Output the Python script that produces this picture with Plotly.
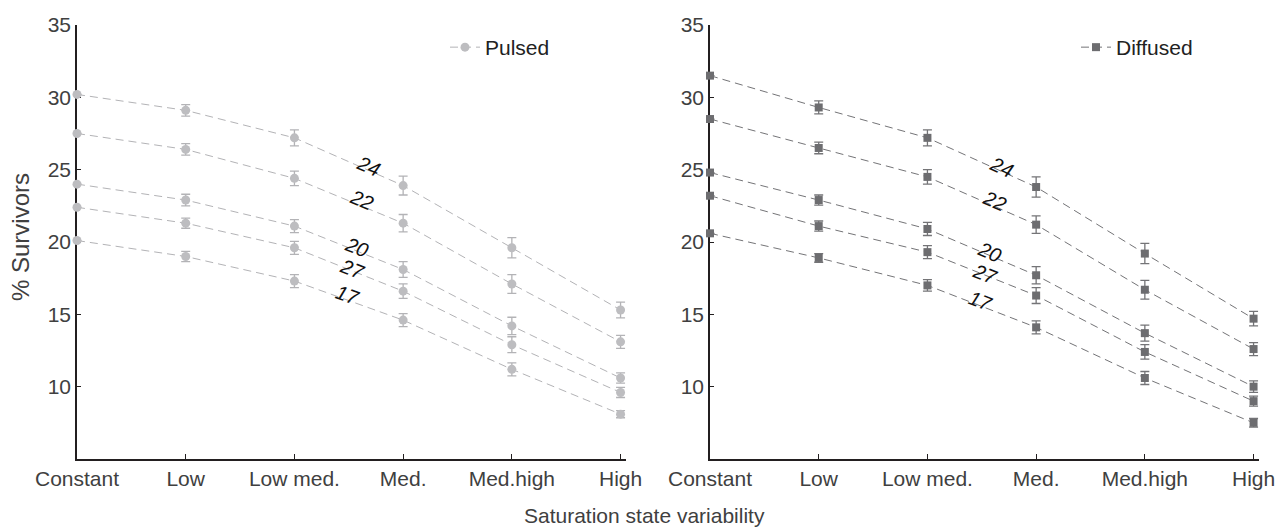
import math
import plotly.graph_objects as go

categories = ["Constant", "Low", "Low med.", "Med.", "Med.high", "High"]
temperatures = ["24", "22", "20", "27", "17"]

# Pulsed panel (% survivors), one list per temperature
pulsed_24 = [30.2, 29.1, 27.2, 23.9, 19.6, 15.3]
pulsed_22 = [27.5, 26.4, 24.4, 21.3, 17.1, 13.1]
pulsed_20 = [24.0, 22.9, 21.1, 18.1, 14.2, 10.6]
pulsed_27 = [22.4, 21.3, 19.6, 16.6, 12.9, 9.6]
pulsed_17 = [20.1, 19.0, 17.3, 14.6, 11.2, 8.1]
pulsed_err_24 = [0, 0.4, 0.55, 0.65, 0.7, 0.55]
pulsed_err_22 = [0, 0.4, 0.5, 0.6, 0.65, 0.45]
pulsed_err_20 = [0, 0.4, 0.45, 0.55, 0.6, 0.35]
pulsed_err_27 = [0, 0.35, 0.45, 0.5, 0.55, 0.35]
pulsed_err_17 = [0, 0.35, 0.45, 0.45, 0.45, 0.25]

# Diffused panel
diffused_24 = [31.5, 29.3, 27.2, 23.8, 19.2, 14.7]
diffused_22 = [28.5, 26.5, 24.5, 21.2, 16.7, 12.6]
diffused_20 = [24.8, 22.9, 20.9, 17.7, 13.7, 10.0]
diffused_27 = [23.2, 21.1, 19.3, 16.3, 12.4, 9.0]
diffused_17 = [20.6, 18.9, 17.0, 14.1, 10.6, 7.5]
diffused_err_24 = [0, 0.45, 0.55, 0.7, 0.7, 0.5]
diffused_err_22 = [0, 0.4, 0.5, 0.6, 0.65, 0.45]
diffused_err_20 = [0, 0.35, 0.45, 0.6, 0.55, 0.4]
diffused_err_27 = [0, 0.35, 0.45, 0.55, 0.5, 0.35]
diffused_err_17 = [0, 0.3, 0.4, 0.45, 0.45, 0.3]

pulsed_series = [pulsed_24, pulsed_22, pulsed_20, pulsed_27, pulsed_17]
pulsed_errors = [pulsed_err_24, pulsed_err_22, pulsed_err_20, pulsed_err_27, pulsed_err_17]
diffused_series = [diffused_24, diffused_22, diffused_20, diffused_27, diffused_17]
diffused_errors = [diffused_err_24, diffused_err_22, diffused_err_20, diffused_err_27, diffused_err_17]

# ---- layout / style ----
W, H = 1288, 529
ML, MR, MT, MB = 77, 29, 25, 70
plot_w = W - ML - MR
plot_h = H - MT - MB
dom1 = [0, 549 / plot_w]
dom2 = [633 / plot_w, 1]
xr = [0, 5.05]
yr = [5, 35]
px_per_x = (dom1[1] - dom1[0]) * plot_w / (xr[1] - xr[0])
px_per_y = plot_h / (yr[1] - yr[0])

label_frac = [0.68, 0.62, 0.57, 0.53, 0.49]   # label placement along Low med. -> Med. segment
label_lift = [0.3, 0.4, 0.25, 0.1, 0.35]

AXC = "#231f20"
TXT = "#404040"
FONT = "Liberation Sans, Arial, Helvetica, sans-serif"

fig = go.Figure()

panels = [
    ("Pulsed", pulsed_series, pulsed_errors, "x", "y", "legend", "circle", "#bdbdc0", "#b3b3b6", 9),
    ("Diffused", diffused_series, diffused_errors, "x2", "y2", "legend2", "square", "#6d6d70", "#747477", 8),
]

annotations = []
for name, series, errs, xa, ya, leg, sym, mcol, lcol, msz in panels:
    for i, (vals, ev) in enumerate(zip(series, errs)):
        fig.add_trace(go.Scatter(
            x=categories, y=vals, xaxis=xa, yaxis=ya,
            mode="lines+markers", name=name, legend=leg,
            legendgroup=name, showlegend=(i == 0),
            line=dict(color=lcol, width=1, dash="8px,5px"),
            marker=dict(symbol=sym, size=msz, color=mcol),
            error_y=dict(type="data", array=ev, visible=True, color=lcol,
                         thickness=1.3, width=4.5),
            cliponaxis=False,
        ))
        # rotated temperature label along the Low med. -> Med. segment
        f = label_frac[i]
        y1, y2 = vals[2], vals[3]
        ly = y1 + f * (y2 - y1) + label_lift[i]
        ang = math.degrees(math.atan2((y1 - y2) * px_per_y, px_per_x))
        annotations.append(dict(
            x=2 + f, y=ly, xref=xa, yref=ya, text="<i>" + temperatures[i] + "</i>",
            showarrow=False, textangle=ang,
            font=dict(size=20, color="#111111", family=FONT),
        ))

annotations.append(dict(
    x=(644 - ML) / plot_w, y=-0.1, xref="paper", yref="paper",
    xanchor="center", yanchor="top",
    text="Saturation state variability", showarrow=False,
    font=dict(size=21, color=TXT, family=FONT),
))
annotations.append(dict(
    x=(20 - ML) / plot_w, y=(H - MB - 237) / plot_h, xref="paper", yref="paper",
    xanchor="center", yanchor="middle",
    text="% Survivors", showarrow=False, textangle=-90,
    font=dict(size=24, color=TXT, family=FONT),
))

xaxis_common = dict(
    type="category", range=xr, showgrid=False, zeroline=False,
    showline=True, linecolor=AXC, linewidth=1.6,
    ticks="inside", ticklen=5, tickwidth=1, tickcolor=AXC,
    tickfont=dict(size=21, color=TXT, family=FONT),
    layer="below traces",
)
yaxis_common = dict(
    range=yr, showgrid=False, zeroline=False,
    showline=True, linecolor=AXC, linewidth=1.6,
    ticks="inside", ticklen=4, tickwidth=1, tickcolor=AXC,
    tickvals=[10, 15, 20, 25, 30, 35],
    tickfont=dict(size=21, color=TXT, family=FONT),
    layer="below traces",
)

legend_common = dict(
    yanchor="top", xanchor="left", bgcolor="rgba(0,0,0,0)",
    borderwidth=0, itemwidth=30,
    font=dict(size=21, color="#222222", family=FONT),
)

fig.update_layout(
    width=W, height=H,
    margin=dict(l=ML, r=MR, t=MT, b=MB),
    paper_bgcolor="white", plot_bgcolor="white",
    font=dict(family=FONT),
    xaxis=dict(domain=dom1, anchor="y", **xaxis_common),
    yaxis=dict(anchor="x", **yaxis_common),
    xaxis2=dict(domain=dom2, anchor="y2", **xaxis_common),
    yaxis2=dict(anchor="x2", **yaxis_common),
    legend=dict(x=(445 - ML) / plot_w, y=1 - (27 - MT) / plot_h, **legend_common),
    legend2=dict(x=(1076 - ML) / plot_w, y=1 - (27 - MT) / plot_h, **legend_common),
    annotations=annotations,
    showlegend=True,
)

fig.write_html("out.html")
